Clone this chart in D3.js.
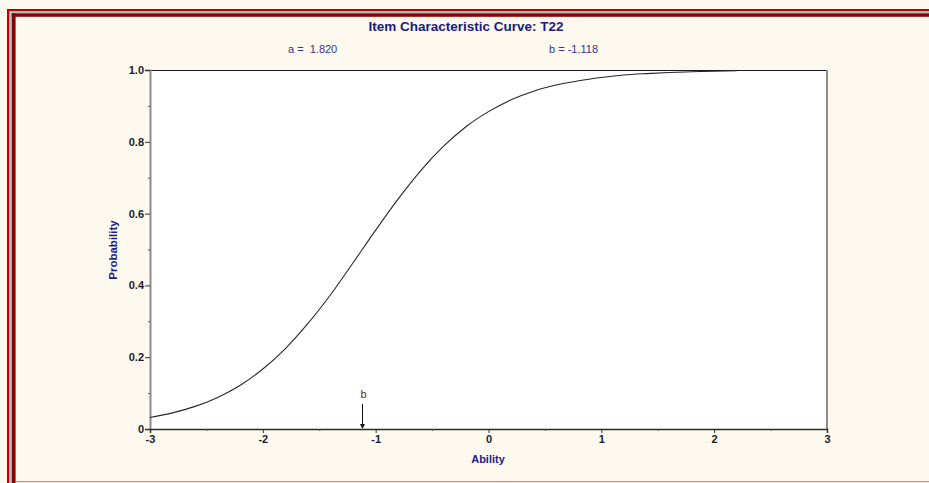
<!DOCTYPE html>
<html>
<head>
<meta charset="utf-8">
<script src="https://cdn.jsdelivr.net/npm/d3@7"></script>
<style>
  html, body { margin: 0; padding: 0; background: #fef9ee; }
  svg { display: block; }
</style>
</head>
<body>
<svg id="chart" width="929" height="483"></svg>
<script>
// ---- data ----
const titleText = "Item Characteristic Curve: T22";
const paramA = "a =  1.820";
const paramB = "b = -1.118";
const bValue = -1.118;
const ability = [-3.0, -2.8, -2.6, -2.4, -2.2, -2.0, -1.8, -1.6, -1.4, -1.2, -1.0, -0.8, -0.6, -0.4, -0.2,
                 0.0, 0.2, 0.4, 0.6, 0.8, 1.0, 1.2, 1.4, 1.6, 1.8, 2.0, 2.2];
const probability = [0.032, 0.045, 0.063, 0.088, 0.122, 0.167, 0.224, 0.294, 0.374, 0.463, 0.554, 0.641, 0.720, 0.787, 0.842,
                     0.884, 0.917, 0.941, 0.958, 0.970, 0.979, 0.986, 0.990, 0.993, 0.995, 0.997, 0.998];
const xTicks = [-3, -2, -1, 0, 1, 2, 3];
const xTickLabels = ["-3", "-2", "-1", "0", "1", "2", "3"];
const xMinorTicks = [-2.5, -1.5, -0.5, 0.5, 1.5, 2.5];
const yTicks = [0, 0.2, 0.4, 0.6, 0.8, 1.0];
const yTickLabels = ["0", "0.2", "0.4", "0.6", "0.8", "1.0"];
const yMinorTicks = [0.1, 0.3, 0.5, 0.7, 0.9];

const svg = d3.select("#chart");
const W = 929, H = 483;
const plot = { left: 150, top: 70, right: 827, bottom: 429 };
const FONT = "'Liberation Sans', Arial, sans-serif";

// background
svg.append("rect").attr("x", 0).attr("y", 0).attr("width", W).attr("height", H).attr("fill", "#fef9ee");

// decorative frame (top & left)
svg.append("rect").attr("x", 7).attr("y", 9).attr("width", W - 7).attr("height", 2.3).attr("fill", "#c00000");
svg.append("rect").attr("x", 7).attr("y", 9).attr("width", 2.5).attr("height", H - 9).attr("fill", "#c00000");
svg.append("rect").attr("x", 9.5).attr("y", 11.3).attr("width", W - 9.5).attr("height", 2).attr("fill", "#a6c4c4");
svg.append("rect").attr("x", 9.5).attr("y", 11.3).attr("width", 2.3).attr("height", H - 11.3).attr("fill", "#a6c4c4");
svg.append("rect").attr("x", 11.8).attr("y", 13.3).attr("width", W - 11.8).attr("height", 3.5).attr("fill", "#8b0000");
svg.append("rect").attr("x", 11.8).attr("y", 13.3).attr("width", 3.8).attr("height", H - 13.3).attr("fill", "#8b0000");
svg.append("rect").attr("x", 15.6).attr("y", 481).attr("width", W - 15.6).attr("height", 1.2).attr("fill", "#d08a8a");

// scales
const x = d3.scaleLinear().domain([-3, 3]).range([plot.left, plot.right]);
const y = d3.scaleLinear().domain([0, 1]).range([plot.bottom, plot.top]);

// plot area
svg.append("rect")
  .attr("x", plot.left).attr("y", plot.top)
  .attr("width", plot.right - plot.left).attr("height", plot.bottom - plot.top)
  .attr("fill", "#ffffff");

// frame lines of plot
svg.append("line").attr("x1", plot.left).attr("x2", plot.right).attr("y1", plot.top + 0.5).attr("y2", plot.top + 0.5)
  .attr("stroke", "#1a1a1a").attr("stroke-width", 1.2);
svg.append("line").attr("x1", plot.right).attr("x2", plot.right).attr("y1", plot.top).attr("y2", plot.bottom)
  .attr("stroke", "#8c8c8c").attr("stroke-width", 2);

// y axis
const yAxis = d3.axisLeft(y).tickValues(yTicks).tickSize(5).tickPadding(1)
  .tickFormat((d, i) => yTickLabels[i]);
const gy = svg.append("g").attr("transform", `translate(${plot.left},0)`).call(yAxis);
gy.select(".domain").attr("stroke", "#8c8c8c").attr("stroke-width", 2);
gy.selectAll(".tick line").attr("stroke", "#333").attr("stroke-width", 1);
gy.selectAll(".tick text").attr("fill", "#1a1a2a").style("font-family", FONT)
  .style("font-size", "11px").style("font-weight", "bold");
const gyMinor = d3.axisLeft(y).tickValues(yMinorTicks).tickSize(2).tickFormat("");
const gym = svg.append("g").attr("transform", `translate(${plot.left},0)`).call(gyMinor);
gym.select(".domain").remove();
gym.selectAll(".tick line").attr("stroke", "#555");

// x axis
const xAxis = d3.axisBottom(x).tickValues(xTicks).tickSize(4).tickPadding(2)
  .tickFormat((d, i) => xTickLabels[i]);
const gx = svg.append("g").attr("transform", `translate(0,${plot.bottom})`).call(xAxis);
gx.select(".domain").attr("stroke", "#2a2a2a").attr("stroke-width", 1.5);
gx.selectAll(".tick line").attr("stroke", "#333");
gx.selectAll(".tick text").attr("fill", "#1a1a2a").style("font-family", FONT)
  .style("font-size", "11px").style("font-weight", "bold");
const gxMinor = d3.axisBottom(x).tickValues(xMinorTicks).tickSize(2).tickFormat("");
const gxm = svg.append("g").attr("transform", `translate(0,${plot.bottom})`).call(gxMinor);
gxm.select(".domain").remove();
gxm.selectAll(".tick line").attr("stroke", "#555");

// curve
const pts = ability.map((a, i) => [a, probability[i]]);
const line = d3.line().x(d => x(d[0])).y(d => y(d[1])).curve(d3.curveMonotoneX);
svg.append("path").datum(pts).attr("d", line)
  .attr("fill", "none").attr("stroke", "#262626").attr("stroke-width", 1.1);

// b marker
const bx = Math.round(x(bValue)) + 0.5;
svg.append("line").attr("x1", bx).attr("x2", bx).attr("y1", 404).attr("y2", plot.bottom - 3)
  .attr("stroke", "#111").attr("stroke-width", 1);
svg.append("path")
  .attr("d", `M${bx - 2.5},${plot.bottom - 5} L${bx + 2.5},${plot.bottom - 5} L${bx},${plot.bottom} Z`)
  .attr("fill", "#111");
svg.append("text").attr("x", bx + 1).attr("y", 398).attr("text-anchor", "middle")
  .attr("fill", "#4a3020").style("font-family", FONT).style("font-size", "11px")
  .text("b");

// titles
svg.append("text").attr("x", 466).attr("y", 30.5).attr("text-anchor", "middle")
  .attr("fill", "#1b1b80").style("font-family", FONT)
  .style("font-size", "13.5px").style("font-weight", "bold").text(titleText);
svg.append("text").attr("x", 288).attr("y", 53)
  .attr("fill", "#33338f").style("font-family", FONT)
  .style("font-size", "11px").style("white-space", "pre").text(paramA);
svg.append("text").attr("x", 549).attr("y", 53)
  .attr("fill", "#33338f").style("font-family", FONT)
  .style("font-size", "11px").text(paramB);

// axis titles
svg.append("text").attr("x", 488).attr("y", 463).attr("text-anchor", "middle")
  .attr("fill", "#1b1b8a").style("font-family", FONT)
  .style("font-size", "11px").style("font-weight", "bold").text("Ability");
svg.append("text").attr("transform", "translate(117,250) rotate(-90)").attr("text-anchor", "middle")
  .attr("fill", "#1b1b8a").style("font-family", FONT)
  .style("font-size", "11.5px").style("font-weight", "bold").text("Probability");
</script>
</body>
</html>
